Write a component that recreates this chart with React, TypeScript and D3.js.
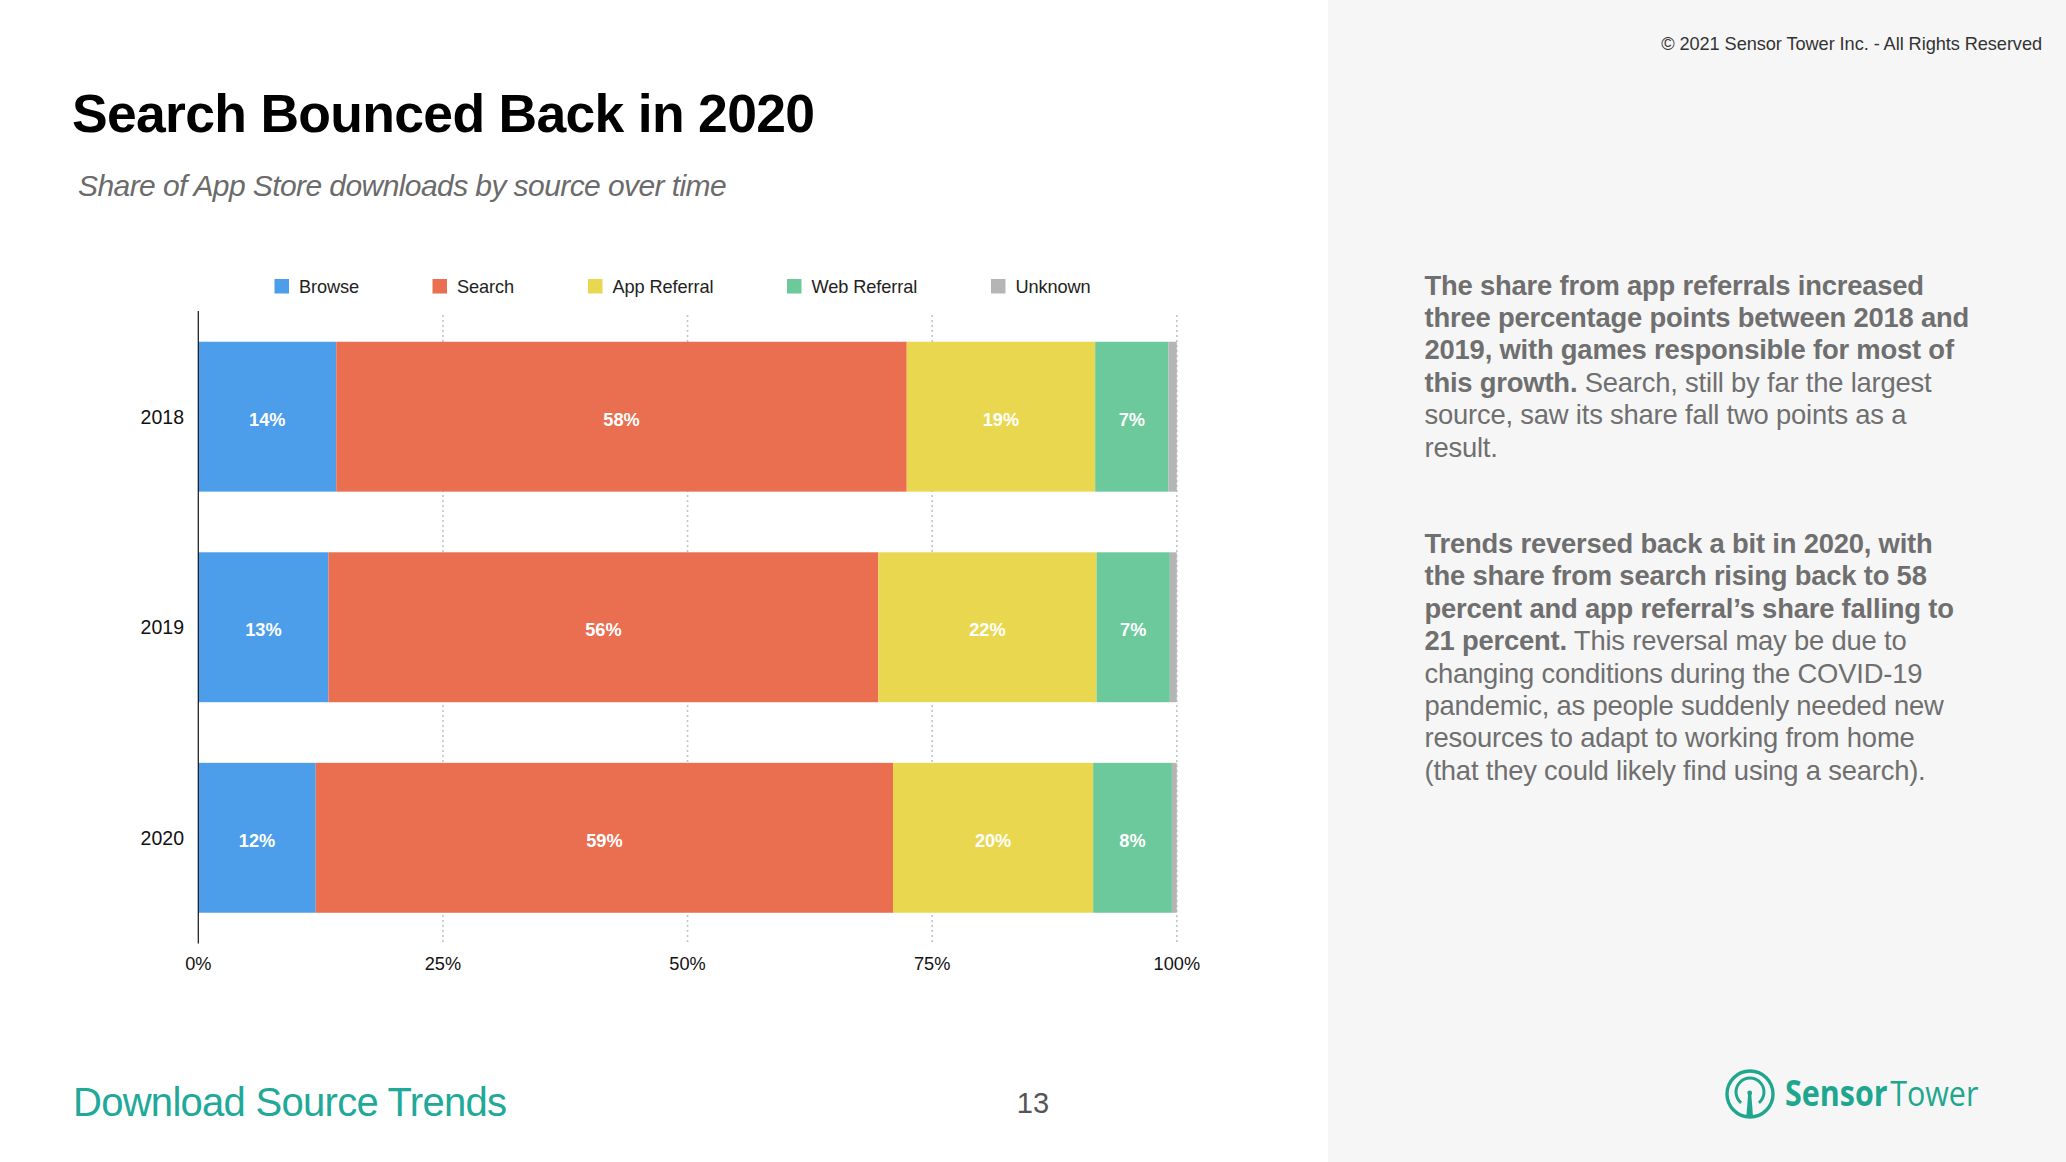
import * as React from 'react';
import * as d3 from 'd3';

const years = ['2018', '2019', '2020'];
const sources = ['Browse', 'Search', 'App Referral', 'Web Referral', 'Unknown'];
const browse = [14.1, 13.3, 12.0];
const search = [58.3, 56.2, 59.0];
const appReferral = [19.26, 22.3, 20.45];
const webReferral = [7.49, 7.49, 8.05];
const unknown = [0.85, 0.71, 0.5];
const xTicks = [0, 25, 50, 75, 100];

const colors = ['#4c9eea', '#e96f50', '#e9d84f', '#6bc99b', '#b5b5b5'];
const legendX = [274.5, 432.5, 588, 787, 991];

const paragraphOne: [string, boolean][][] = [
  [['The share from app referrals increased', true]],
  [['three percentage points between 2018 and', true]],
  [['2019, with games responsible for most of', true]],
  [['this growth.', true], [' Search, still by far the largest', false]],
  [['source, saw its share fall two points as a', false]],
  [['result.', false]],
];
const paragraphTwo: [string, boolean][][] = [
  [['Trends reversed back a bit in 2020, with', true]],
  [['the share from search rising back to 58', true]],
  [['percent and app referral’s share falling to', true]],
  [['21 percent.', true], [' This reversal may be due to', false]],
  [['changing conditions during the COVID-19', false]],
  [['pandemic, as people suddenly needed new', false]],
  [['resources to adapt to working from home', false]],
  [['(that they could likely find using a search).', false]],
];

const font = '"Liberation Sans", Arial, sans-serif';

const rows = years.map((year, i) => ({
  year,
  Browse: browse[i],
  Search: search[i],
  'App Referral': appReferral[i],
  'Web Referral': webReferral[i],
  Unknown: unknown[i],
}));

const x = d3.scaleLinear().domain([0, 100]).range([198.3, 1176.8]);
const y = d3.scaleBand().domain(years).range([311, 943.5]).paddingInner(0.288).paddingOuter(0.146);
const stacked = d3.stack<any>().keys(sources)(rows);

const Paragraph: React.FC<{ lines: [string, boolean][][]; top: number }> = ({ lines, top }) => (
  <text x={1424.5} fontFamily={font} fontSize={27.4} letterSpacing={-0.2} fill="#6f6f6f">
    {lines.map((parts, i) => (
      <tspan key={i} x={1424.5} y={top + i * 32.4}>
        {parts.map(([t, bold], j) => (
          <tspan key={j} fontWeight={bold ? 700 : 400} xmlSpace="preserve">{t}</tspan>
        ))}
      </tspan>
    ))}
  </text>
);

const Logo: React.FC = () => {
  const teal = '#1fa68e';
  const inner = d3.arc<any>()({ innerRadius: 12.5, outerRadius: 15.5, startAngle: -Math.PI * 0.78, endAngle: Math.PI * 0.78 } as any);
  return (
    <g>
      <circle cx={1750} cy={1094} r={23} fill="none" stroke={teal} strokeWidth={3.4} />
      <path d={inner || ''} transform="translate(1750,1092)" fill={teal} />
      <circle cx={1749.7} cy={1093} r={2.4} fill={teal} />
      <path d="M1748.2 1093 L1751.2 1093 L1753 1116 L1746.4 1116 Z" fill={teal} />
      <text transform="translate(1785,1106) scale(0.87,1)" fontFamily="'Open Sans', sans-serif" fontSize={35} fill={teal}>
        <tspan fontWeight={700}>Sensor</tspan>
        <tspan dx={3} fontWeight={400}>Tower</tspan>
      </text>
    </g>
  );
};

const App: React.FC = () => (
  <svg width={2066} height={1162} viewBox="0 0 2066 1162" style={{ position: 'absolute', left: 0, top: 0, background: '#fff' }}>
    <rect x={1328} y={0} width={738} height={1162} fill="#f6f6f6" />

    <text x={2042} y={50} textAnchor="end" fontFamily={font} fontSize={18.2} letterSpacing={-0.07} fill="#333">© 2021 Sensor Tower Inc. - All Rights Reserved</text>
    <text x={72} y={132} fontFamily={font} fontWeight={700} fontSize={53.5} letterSpacing={-0.7} fill="#000">Search Bounced Back in 2020</text>
    <text x={78} y={196} fontFamily={font} fontStyle="italic" fontSize={30} letterSpacing={-0.58} fill="#6b6b6b">Share of App Store downloads by source over time</text>

    {sources.map((s, i) => (
      <g key={s}>
        <rect x={legendX[i]} y={279} width={14.5} height={14.5} fill={colors[i]} />
        <text x={legendX[i] + 24.5} y={292.5} fontFamily={font} fontSize={18.2} letterSpacing={-0.1} fill="#222">{s}</text>
      </g>
    ))}

    {xTicks.slice(1).map(t => (
      <line key={t} x1={x(t)} x2={x(t)} y1={315} y2={943.5} stroke="#c4c4c4" strokeWidth={1.6} strokeDasharray="2 3" />
    ))}

    {stacked.map((series, i) => (
      <g key={series.key} fill={colors[i]}>
        {series.map(d => (
          <rect key={d.data.year} x={x(d[0])} y={y(d.data.year)} width={x(d[1]) - x(d[0])} height={y.bandwidth()} />
        ))}
      </g>
    ))}

    {stacked.slice(0, 4).map(series => series.map(d => (
      <text
        key={series.key + d.data.year}
        x={(x(d[0]) + x(d[1])) / 2}
        y={y(d.data.year)! + y.bandwidth() / 2 + 9}
        textAnchor="middle"
        fontFamily={font}
        fontWeight={700}
        fontSize={18.2}
        fill="#fff"
      >
        {Math.round(d[1] - d[0])}%
      </text>
    )))}

    <line x1={x(0)} x2={x(0)} y1={311} y2={943.5} stroke="#111" strokeWidth={1.2} />

    {years.map(year => (
      <text key={year} x={184} y={y(year)! + y.bandwidth() / 2 + 7} textAnchor="end" fontFamily={font} fontSize={19.5} fill="#111">{year}</text>
    ))}
    {xTicks.map(t => (
      <text key={t} x={x(t)} y={970} textAnchor="middle" fontFamily={font} fontSize={18.2} fill="#111">{t}%</text>
    ))}

    <Paragraph lines={paragraphOne} top={294.5} />
    <Paragraph lines={paragraphTwo} top={553} />

    <text x={73} y={1116} fontFamily={font} fontSize={40} letterSpacing={-0.72} fill="#20a998">Download Source Trends</text>
    <text x={1033} y={1113} textAnchor="middle" fontFamily={font} fontSize={29} fill="#555">13</text>
    <Logo />
  </svg>
);

export default App;
